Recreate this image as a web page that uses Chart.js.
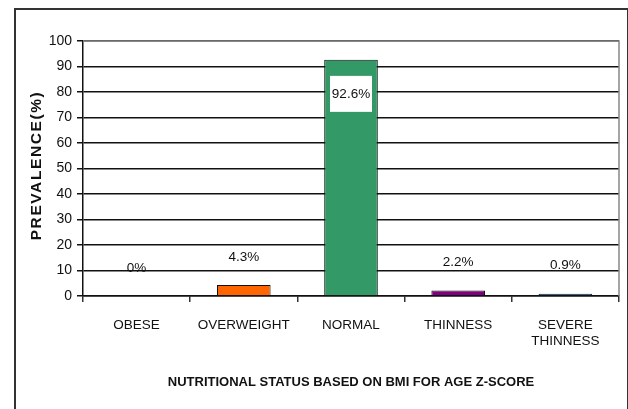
<!DOCTYPE html>
<html>
<head>
<meta charset="utf-8">
<script src="https://cdn.jsdelivr.net/npm/chart.js@4/dist/chart.umd.min.js"></script>
<style>
  html, body { margin: 0; padding: 0; background: #fff; }
  #wrap { position: relative; width: 628px; height: 409px; overflow: hidden; }
  #frame { position: absolute; left: 14px; top: 8px; width: 611px; height: 420px; border: 2px solid #333; }
  canvas { position: absolute; left: 0; top: 0; }
</style>
</head>
<body>
<div id="wrap">
  <div id="frame"></div>
  <canvas id="chart" width="628" height="409"></canvas>
</div>
<script>
// Nutritional status (BMI for age z-score)
const categories = ["OBESE", "OVERWEIGHT", "NORMAL", "THINNESS", ["SEVERE", "THINNESS"]];
const prevalence = [0, 4.3, 92.6, 2.2, 0.9];
const valueLabels = ["0%", "4.3%", "92.6%", "2.2%", "0.9%"];
const yMin = 0, yMax = 100, yStep = 10;
const yTitle = "PREVALENCE(%)";

const sans = "'Liberation Sans', Arial, sans-serif";

// grey frame on top/right of plot area + spaced y title
const plotFrame = {
    id: "plotFrame",
    beforeDatasetsDraw(chart) {
        const a = chart.chartArea, c = chart.ctx;
        c.save();
        c.strokeStyle = "#888";
        c.lineWidth = 1.5;
        c.beginPath();
        c.moveTo(a.left, a.top);
        c.lineTo(a.right, a.top);
        c.lineTo(a.right, a.bottom);
        c.stroke();
        c.restore();

        c.save();
        c.translate(37, (a.top + a.bottom) / 2 - 3);
        c.rotate(-Math.PI / 2);
        c.font = "bold 15.5px " + sans;
        c.letterSpacing = "1.6px";
        c.fillStyle = "#111";
        c.textAlign = "center";
        c.textBaseline = "middle";
        c.fillText(yTitle, 0, 0);
        c.restore();
    }
};

// value labels
const valueText = {
    id: "valueText",
    afterDatasetsDraw(chart) {
        const c = chart.ctx;
        const meta = chart.getDatasetMeta(0);
        c.save();
        c.font = "13.5px " + sans;
        c.textAlign = "center";
        c.textBaseline = "middle";
        meta.data.forEach((bar, i) => {
            if (prevalence[i] > 50) {
                c.fillStyle = "#fff";
                c.fillRect(bar.x - 21, bar.y + 16, 42, 36);
                c.fillStyle = "#111";
                c.fillText(valueLabels[i], bar.x, bar.y + 34);
            } else {
                c.fillStyle = "#111";
                c.fillText(valueLabels[i], bar.x, bar.y - 28);
            }
        });
        c.restore();
    }
};

new Chart(document.getElementById("chart"), {
    type: "bar",
    data: {
        labels: categories,
        datasets: [{
            data: prevalence,
            backgroundColor: ["#ff6600", "#ff6600", "#339966", "#800080", "#003366"],
            borderColor: "#111",
            borderWidth: 1,
            categoryPercentage: 1,
            barPercentage: 0.5
        }]
    },
    options: {
        responsive: false,
        animation: false,
        layout: { padding: { left: 0, top: 41, right: 9, bottom: 0 } },
        plugins: { legend: { display: false }, tooltip: { enabled: false } },
        scales: {
            x: {
                grid: { offset: true, drawOnChartArea: false, color: "#333", lineWidth: 1.5, tickLength: 6 },
                border: { color: "#111", width: 1.5 },
                ticks: { color: "#111", font: { family: sans, size: 13.5 }, padding: 15, maxRotation: 0 },
                title: {
                    display: true,
                    text: "NUTRITIONAL STATUS BASED ON BMI FOR AGE Z-SCORE",
                    color: "#111",
                    font: { family: sans, size: 13, weight: "bold" },
                    padding: { top: 0, bottom: 19 }
                },
                afterFit(s) { s.height = 113; }
            },
            y: {
                min: yMin, max: yMax,
                ticks: { stepSize: yStep, color: "#111", font: { family: sans, size: 14 }, padding: 5 },
                grid: { color: "#111", lineWidth: 1.5, tickLength: 6 },
                border: { color: "#111", width: 1.5 },
                title: { display: false },
                afterFit(s) { s.width = 83; }
            }
        }
    },
    plugins: [plotFrame, valueText]
});
</script>
</body>
</html>
